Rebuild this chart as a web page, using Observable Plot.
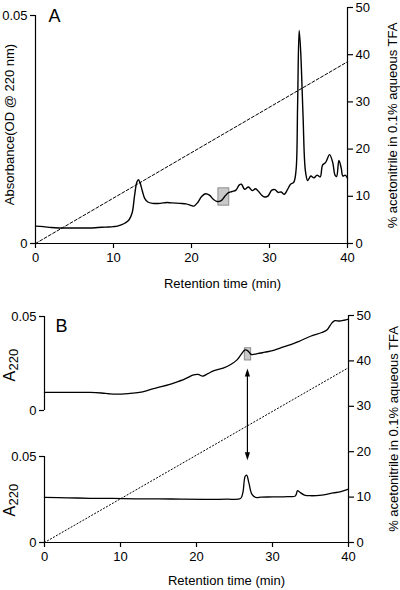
<!DOCTYPE html>
<html><head><meta charset="utf-8">
<script src="https://cdn.jsdelivr.net/npm/d3@7"></script>
<script src="https://cdn.jsdelivr.net/npm/@observablehq/plot@0.6"></script>
<style>
html,body{margin:0;padding:0;background:#fff;}
#chart{position:relative;width:400px;height:590px;}
#chart svg{position:absolute;left:0;top:0;}
</style></head><body><div id="chart"></div>
<script>
// ---- Data ----
const xTicks = [0, 10, 20, 30, 40];
const absTicks = [0, 0.05];
const pctTicks = [0, 10, 20, 30, 40, 50];
const xTitle = "Retention time (min)";
const absTitleA = "Absorbance(OD @ 220 nm)";
const pctTitle = "% acetonitrile in 0.1% aqueous TFA";

// Panel A chromatogram (time min, absorbance)
const timeA = [0,1,2,3,4,5,6,7,8,9,10,10.5,11,11.5,12,12.4,12.7,13.0,13.2,13.4,13.7,14.0,14.4,15,16,16.8,17.5,18.5,19.3,20.0,20.3,20.8,21.3,21.8,22.3,22.8,23.3,23.8,24.3,24.7,25.2,25.7,26.1,26.4,26.8,27.3,27.8,28.2,28.6,29.0,29.4,29.8,30.3,30.7,31.1,31.5,31.9,32.3,32.7,33.1,33.4,33.6,33.8,34.0,34.3,34.6,34.9,35.3,35.7,36.1,36.5,36.8,37.2,37.7,38.1,38.4,38.6,38.9,39.2,39.4,39.7,40.0];
const absA = [0.0038,0.0037,0.0035,0.0034,0.0034,0.0034,0.0034,0.0034,0.0035,0.0036,0.0037,0.0038,0.0041,0.0045,0.0052,0.0068,0.0105,0.0135,0.0140,0.0133,0.0115,0.0099,0.0091,0.0088,0.0088,0.0090,0.0089,0.0088,0.0087,0.0083,0.0082,0.0090,0.0103,0.0109,0.0106,0.0097,0.0092,0.0094,0.0104,0.0111,0.0114,0.0117,0.0128,0.0130,0.0119,0.0124,0.0116,0.0120,0.0114,0.0106,0.0102,0.0104,0.0117,0.0118,0.0112,0.0113,0.0108,0.0118,0.0130,0.0134,0.0160,0.0300,0.0467,0.0420,0.0280,0.0160,0.0138,0.0148,0.0144,0.0150,0.0146,0.0172,0.0178,0.0195,0.0178,0.0150,0.0147,0.0182,0.0165,0.0148,0.0150,0.0143];

// Panel B upper chromatogram
const timeBUp = [0,3,6,7.5,8.5,9.5,11,12.5,14,15.5,17,18.5,19.5,20.2,20.8,21.5,22.3,23.5,24.5,25.3,25.9,26.4,26.8,27.2,28,29,30,31,32.4,33.5,35,36.5,37.2,37.8,38.2,38.8,39.4,40];
const absBUp = [0.0096,0.0096,0.0096,0.0093,0.0089,0.0087,0.0090,0.0096,0.0112,0.0128,0.0146,0.0168,0.0188,0.0192,0.0183,0.0196,0.0212,0.0225,0.0245,0.0268,0.0300,0.0322,0.0316,0.0298,0.0302,0.0310,0.0318,0.0332,0.0350,0.0368,0.0395,0.0415,0.0430,0.0465,0.0478,0.0476,0.0480,0.0486];

// Panel B lower chromatogram
const timeBLow = [0,3,6,9,12,15,18,21,24,25.8,26.1,26.4,26.6,26.9,27.3,27.8,28.5,30,32,33.0,33.3,33.6,34.2,35,36.5,38,39,40];
const absBLow = [0.0262,0.0260,0.0257,0.0256,0.0254,0.0254,0.0252,0.0251,0.0252,0.0256,0.0290,0.0385,0.0392,0.0345,0.0280,0.0262,0.0264,0.0265,0.0267,0.0270,0.0302,0.0292,0.0276,0.0272,0.0276,0.0288,0.0296,0.0310];

// Acetonitrile gradient
const gradTime = [0, 40];
const gradPct = [0, 38.5];

// Marked fractions (grey boxes)
const boxA = {t1: 23.45, t2: 24.85, a1: 0.0083, a2: 0.0121};
const boxB = {t1: 26.35, t2: 27.2, a1: 0.0266, a2: 0.0331};

// Arrow linking panels (time, % scale ends)
const arrowTime = 26.7;
const arrowFrom = 18.1;
const arrowTo = 38.3;

// ---- Build ----
const zip = (ts, vs) => ts.map((t, i) => ({t, v: vs[i]}));
const traceA = zip(timeA, absA);
const traceBUp = zip(timeBUp, absBUp);
const traceBLow = zip(timeBLow, absBLow);
const grad = zip(gradTime, gradPct);

const W = 400, H = 590;
const FONT = "'Liberation Sans', Arial, Helvetica, sans-serif";
const chart = document.getElementById("chart");
function make(opts) {
  const svg = Plot.plot({
    width: W, height: H,
    style: {fontFamily: FONT, fontSize: "13px", background: "transparent", color: "#000", overflow: "visible"},
    ...opts
  });
  chart.append(svg);
}
const fmtAbs = d => d === 0 ? "0" : String(d);
const headUp = {draw(ctx) { ctx.moveTo(0, 0); ctx.lineTo(-2.6, 8); ctx.lineTo(2.6, 8); ctx.closePath(); }};
const txt = d => d;
const LW = 1.4;

// Panel A – absorbance scale
make({
  marginLeft: 35, marginRight: 53, marginTop: 15, marginBottom: 347,
  x: {domain: [0, 40], axis: null},
  y: {domain: [0, 0.05], axis: null},
  marks: [
    Plot.rect([boxA], {x1: "t1", x2: "t2", y1: "a1", y2: "a2", fill: "#c9c9c9", stroke: "#7a7a7a", strokeWidth: 0.8}),
    Plot.line(traceA, {x: "t", y: "v", stroke: "#000", strokeWidth: LW, curve: "catmull-rom"}),
    Plot.ruleX([0], {y1: absTicks[0], y2: absTicks[1], stroke: "#000", strokeWidth: 1.2}),
    Plot.ruleY([0], {x1: xTicks[0], x2: xTicks[4], stroke: "#000", strokeWidth: 1.2}),
    Plot.axisY({anchor: "left", ticks: absTicks, tickFormat: fmtAbs, tickSize: 5, tickPadding: 3, label: null, fontSize: 13, strokeWidth: 1.2}),
    Plot.axisX({anchor: "bottom", ticks: xTicks, tickSize: 5, tickPadding: 4, label: null, fontSize: 13, strokeWidth: 1.2}),
    Plot.text([xTitle], {text: txt, frameAnchor: "bottom", dx: 31, dy: 40, lineAnchor: "middle", fontSize: 13}),
    Plot.text([absTitleA], {text: txt, frameAnchor: "left", rotate: -90, dx: -26, dy: -5, textAnchor: "middle", lineAnchor: "middle", fontSize: 13}),
    Plot.text(["A"], {text: txt, frameAnchor: "top-left", dx: 13, dy: 1, textAnchor: "start", lineAnchor: "middle", fontSize: 18})
  ]
});

// Panel A – acetonitrile scale
make({
  marginLeft: 35, marginRight: 53, marginTop: 7, marginBottom: 347,
  x: {domain: [0, 40], axis: null},
  y: {domain: [0, 50], axis: null},
  marks: [
    Plot.line(grad, {x: "t", y: "v", stroke: "#000", strokeWidth: 1, strokeDasharray: "3,2"}),
    Plot.ruleX([40], {y1: pctTicks[0], y2: pctTicks[5], stroke: "#000", strokeWidth: 1.2}),
    Plot.axisY({anchor: "right", ticks: pctTicks, tickSize: 5, tickPadding: 3, label: null, fontSize: 13, strokeWidth: 1.2}),
    Plot.text([pctTitle], {text: txt, frameAnchor: "right", rotate: -90, dx: 45, textAnchor: "middle", lineAnchor: "middle", fontSize: 13})
  ]
});

// Panel B – upper trace
make({
  marginLeft: 44, marginRight: 52, marginTop: 316, marginBottom: 180,
  x: {domain: [0, 40], axis: null},
  y: {domain: [0, 0.05], axis: null},
  marks: [
    Plot.rect([boxB], {x1: "t1", x2: "t2", y1: "a1", y2: "a2", fill: "#c9c9c9", stroke: "#7a7a7a", strokeWidth: 0.8}),
    Plot.line(traceBUp, {x: "t", y: "v", stroke: "#000", strokeWidth: 1.3, curve: "catmull-rom"}),
    Plot.ruleX([0], {y1: absTicks[0], y2: absTicks[1], stroke: "#000", strokeWidth: 1.2}),
    Plot.axisY({anchor: "left", ticks: absTicks, tickFormat: fmtAbs, tickSize: 5, tickPadding: 3, label: null, fontSize: 13, strokeWidth: 1.2}),
    Plot.text(["B"], {text: txt, frameAnchor: "top-left", dx: 11, dy: 10, textAnchor: "start", lineAnchor: "middle", fontSize: 18}),
    Plot.text(["A"], {text: txt, frameAnchor: "left", rotate: -90, dx: -35, dy: 18, textAnchor: "start", lineAnchor: "middle", fontSize: 16}),
    Plot.text(["220"], {text: txt, frameAnchor: "left", rotate: -90, dx: -31, dy: 7, textAnchor: "start", lineAnchor: "middle", fontSize: 13})
  ]
});

// Panel B – lower trace
make({
  marginLeft: 44, marginRight: 52, marginTop: 456, marginBottom: 48,
  x: {domain: [0, 40], axis: null},
  y: {domain: [0, 0.05], axis: null},
  marks: [
    Plot.line(traceBLow, {x: "t", y: "v", stroke: "#000", strokeWidth: 1.3, curve: "catmull-rom"}),
    Plot.ruleX([0], {y1: absTicks[0], y2: absTicks[1], stroke: "#000", strokeWidth: 1.2}),
    Plot.ruleY([0], {x1: xTicks[0], x2: xTicks[4], stroke: "#000", strokeWidth: 1.2}),
    Plot.axisY({anchor: "left", ticks: absTicks, tickFormat: fmtAbs, tickSize: 5, tickPadding: 3, label: null, fontSize: 13, strokeWidth: 1.2}),
    Plot.axisX({anchor: "bottom", ticks: xTicks, tickSize: 5, tickPadding: 4, label: null, fontSize: 13, strokeWidth: 1.2}),
    Plot.text([xTitle], {text: txt, frameAnchor: "bottom", dx: 30, dy: 38, lineAnchor: "middle", fontSize: 13}),
    Plot.text(["A"], {text: txt, frameAnchor: "left", rotate: -90, dx: -35, dy: 17, textAnchor: "start", lineAnchor: "middle", fontSize: 16}),
    Plot.text(["220"], {text: txt, frameAnchor: "left", rotate: -90, dx: -31, dy: 6, textAnchor: "start", lineAnchor: "middle", fontSize: 13})
  ]
});

// Panel B – acetonitrile scale and arrow
make({
  marginLeft: 44, marginRight: 52, marginTop: 315, marginBottom: 48,
  x: {domain: [0, 40], axis: null},
  y: {domain: [0, 50], axis: null},
  marks: [
    Plot.line(grad, {x: "t", y: "v", stroke: "#000", strokeWidth: 1, strokeDasharray: "1.2,2.2"}),
    Plot.ruleX([40], {y1: pctTicks[0], y2: pctTicks[5], stroke: "#000", strokeWidth: 1.2}),
    Plot.axisY({anchor: "right", ticks: pctTicks, tickSize: 5, tickPadding: 3, label: null, fontSize: 13, strokeWidth: 1.2}),
    Plot.text([pctTitle], {text: txt, frameAnchor: "right", rotate: -90, dx: 45, textAnchor: "middle", lineAnchor: "middle", fontSize: 13}),
    Plot.ruleX([arrowTime], {y1: arrowFrom + 1.5, y2: arrowTo - 1.5, stroke: "#000", strokeWidth: 1.2}),
    Plot.dot([{t: arrowTime, v: arrowTo, r: 0}, {t: arrowTime, v: arrowFrom, r: 180}], {x: "t", y: "v", rotate: "r", symbol: headUp, fill: "#000", stroke: "none"})
  ]
});
</script></body></html>
